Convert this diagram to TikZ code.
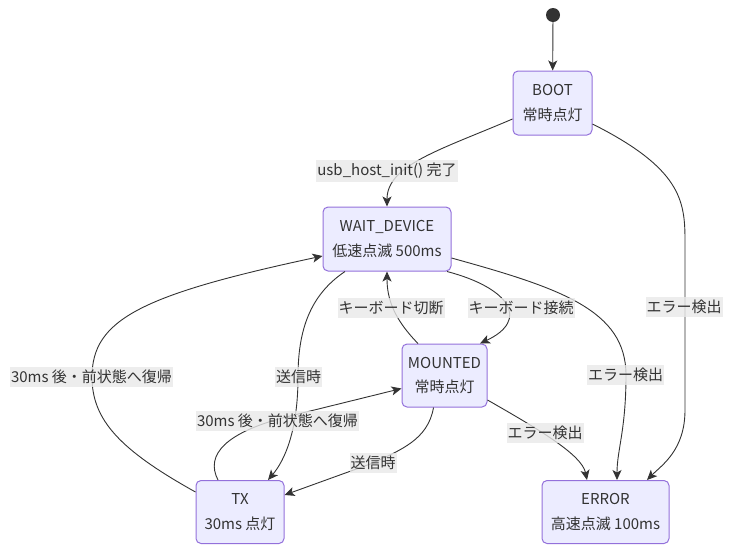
\documentclass[tikz,border=0pt]{standalone}
\usepackage{fontspec}
\setmainfont{Noto Sans CJK JP}
\usetikzlibrary{arrows.meta,calc}
\definecolor{ink}{HTML}{333333}
\definecolor{boxfill}{HTML}{ECECFF}
\definecolor{boxline}{HTML}{9370DB}
\definecolor{lblbg}{HTML}{E8E8E8}
\tikzset{
  statebox/.style={draw=boxline, fill=boxfill, rounded corners=5pt, line width=1pt, text=ink,
    align=center, font=\fontsize{15}{24.5}\selectfont, inner sep=0pt},
  lbl/.style={fill=lblbg, fill opacity=0.8, text opacity=1, text=ink,
    font=\fontsize{15}{16}\selectfont, inner xsep=1pt, inner ysep=3pt},
  conn/.style={draw=ink, line width=0.9pt, -{Stealth[length=10pt,width=9pt,inset=2.5pt]}},
}
\begin{document}
\begin{tikzpicture}[x=1pt, y=-1pt]
\useasboundingbox (0,0) rectangle (740,558);
% states
\node[circle, fill=ink, minimum size=14pt, inner sep=0pt] (init) at (553,15) {};
\node[statebox, minimum width=79pt, minimum height=64pt] (boot) at (552.5,103) {BOOT\\常時点灯};
\node[statebox, minimum width=128pt, minimum height=64pt] (wait) at (387,239) {WAIT\_DEVICE\\低速点滅 500ms};
\node[statebox, minimum width=85pt, minimum height=63pt] (mnt) at (444.5,375.5) {MOUNTED\\常時点灯};
\node[statebox, minimum width=88pt, minimum height=63pt] (tx) at (240,512) {TX\\30ms 点灯};
\node[statebox, minimum width=127pt, minimum height=63pt] (err) at (605.5,512) {ERROR\\高速点滅 100ms};
% connectors
\draw[conn] (init) -- (boot);
\draw[conn] ($(boot.west)+(0,16)$) .. controls (440,150) and (387,165) .. (wait.north);
\draw[conn] ($(boot.east)+(0,21)$) .. controls (680,168) and (685,200) .. (685,240) -- (685,410)
  .. controls (685,450) and (662,465) .. ($(err.north)+(41.5,0)$);
\draw[conn] ($(wait.east)+(0,19)$) .. controls (560,288) and (626,310) .. (626,375)
  .. controls (626,430) and (617,450) .. ($(err.north)+(11.5,0)$);
\draw[conn] ($(wait.south)+(60,0)$) .. controls (510,288) and (530,320) .. ($(mnt.north)+(35.5,0)$);
\draw[conn] ($(mnt.north)+(-26.5,0)$) .. controls (395,320) and (387,300) .. (wait.south);
\draw[conn] ($(wait.south)+(-42,0)$) .. controls (310,295) and (298,330) .. (298,377)
  .. controls (298,430) and (285,460) .. ($(tx.north)+(28,0)$);
\draw[conn] ($(tx.west)+(0,-20)$) .. controls (120,450) and (92,420) .. (92,377)
  .. controls (92,320) and (140,295) .. ($(wait.west)+(0,17)$);
\draw[conn] ($(tx.north)+(-22,0)$) .. controls (205,455) and (225,432) .. (290,416) -- ($(mnt.west)+(0,13)$);
\draw[conn] ($(mnt.south)+(-11,0)$) .. controls (428,440) and (400,450) .. (373,463) -- ($(tx.east)+(0,-17)$);
\draw[conn] ($(mnt.east)+(0,24.5)$) .. controls (540,430) and (582,455) .. ($(err.north)+(-18.5,0)$);
% labels
\node[lbl] (l1) at (387,171) {usb\_host\_init() 完了};
\node[lbl] (l2) at (684,307) {エラー検出};
\node[lbl] (l3) at (625.5,375) {エラー検出};
\node[lbl] (l4) at (391,308) {キーボード切断};
\node[lbl] (l5) at (521,308) {キーボード接続};
\node[lbl] (l6) at (91.5,377) {30ms 後・前状態へ復帰};
\node[lbl] (l7) at (298.5,377) {送信時};
\node[lbl] (l8) at (277.5,421) {30ms 後・前状態へ復帰};
\node[lbl] (l9) at (373,463) {送信時};
\node[lbl] (l10) at (545,433) {エラー検出};
\end{tikzpicture}
\end{document}
